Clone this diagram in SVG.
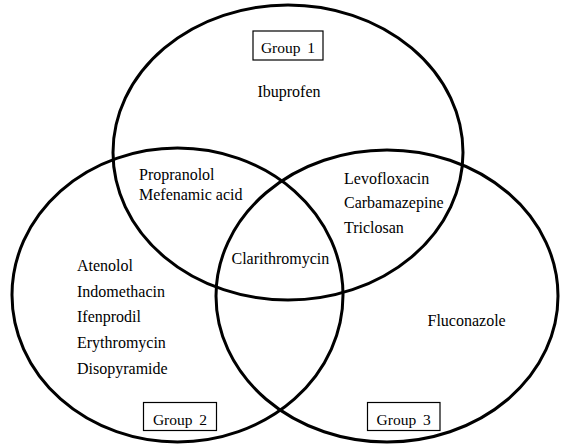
<svg xmlns="http://www.w3.org/2000/svg" width="566" height="448" viewBox="0 0 566 448">
<style>
.set{fill:none;stroke:#000;stroke-width:3}
.lbl{font-family:"Liberation Serif","Times New Roman",serif;font-size:16px;fill:#000}
.grp{font-family:"Liberation Serif","Times New Roman",serif;font-size:15.5px;fill:#000;word-spacing:3px}
.box{fill:#fff;stroke:#000;stroke-width:1.2}
</style>
<rect width="566" height="448" fill="#fff"/>
<g id="set-group1">
<ellipse class="set" cx="288" cy="152.5" rx="175" ry="147.5"/>
</g>
<g id="set-group2">
<ellipse class="set" cx="177.5" cy="295" rx="165.5" ry="147"/>
</g>
<g id="set-group3">
<ellipse class="set" cx="387" cy="296" rx="171" ry="146"/>
</g>
<g id="label-group1">
<rect class="box" x="253" y="31" width="70" height="29"/>
<text class="grp" x="288" y="53" text-anchor="middle">Group 1</text>
</g>
<g id="label-group2">
<rect class="box" x="143.5" y="402.5" width="73" height="28"/>
<text class="grp" x="180" y="424.5" text-anchor="middle">Group 2</text>
</g>
<g id="label-group3">
<rect class="box" x="367.5" y="402.5" width="72.5" height="28"/>
<text class="grp" x="403.7" y="424.5" text-anchor="middle">Group 3</text>
</g>
<g id="only1">
<text class="lbl" x="289" y="97" text-anchor="middle">Ibuprofen</text>
</g>
<g id="g1g2">
<text class="lbl" x="139" y="180">Propranolol</text>
<text class="lbl" x="139" y="199.5">Mefenamic acid</text>
</g>
<g id="g1g3">
<text class="lbl" x="344" y="183.5">Levofloxacin</text>
<text class="lbl" x="344" y="208">Carbamazepine</text>
<text class="lbl" x="344" y="232.5">Triclosan</text>
</g>
<g id="all">
<text class="lbl" x="231.5" y="263.5">Clarithromycin</text>
</g>
<g id="only2">
<text class="lbl" x="77" y="271">Atenolol</text>
<text class="lbl" x="77" y="296.5">Indomethacin</text>
<text class="lbl" x="77" y="321.5">Ifenprodil</text>
<text class="lbl" x="77" y="347.5">Erythromycin</text>
<text class="lbl" x="77" y="373.5">Disopyramide</text>
</g>
<g id="only3">
<text class="lbl" x="427.5" y="326">Fluconazole</text>
</g>
<g id="connectors"></g>
</svg>
